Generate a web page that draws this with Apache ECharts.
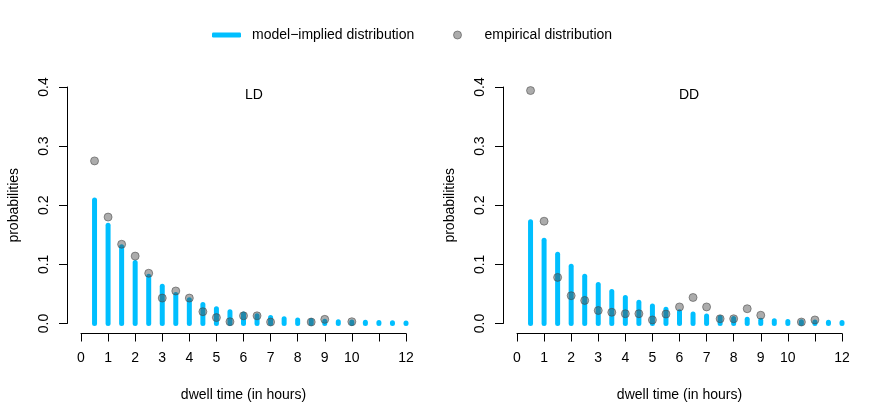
<!DOCTYPE html>
<html>
<head>
<meta charset="utf-8">
<script src="https://cdn.jsdelivr.net/npm/echarts@6/dist/echarts.min.js"></script>
<style>html,body{margin:0;padding:0;background:#fff;}#c{width:872px;height:410px;}</style>
</head>
<body>
<div id="c"></div>
<script>
const dwellTimes = [0.5,1,1.5,2,2.5,3,3.5,4,4.5,5,5.5,6,6.5,7,7.5,8,8.5,9,9.5,10,10.5,11,11.5,12];
const ldModel = [0.209,0.166,0.130,0.103,0.080,0.063,0.049,0.040,0.032,0.025,0.020,0.016,0.013,0.010,0.008,0.006,0.005,0.004,0.003,0.0025,0.002,0.0015,0.0012,0.001];
const ldEmp = [0.275,0.180,0.134,0.114,0.085,0.043,0.055,0.043,0.020,0.010,0.003,0.013,0.013,0.0025,null,null,0.0025,0.007,null,0.003,null,null,null,null];
const ddModel = [0.172,0.141,0.117,0.097,0.080,0.066,0.054,0.044,0.036,0.0295,0.024,0.020,0.016,0.0126,0.010,0.0085,0.007,0.0057,0.0045,0.0035,0.003,0.0025,0.002,0.0015];
const ddEmp = [0.394,0.173,0.078,0.047,0.039,0.022,0.019,0.0165,0.0165,0.006,0.016,0.028,0.044,0.028,0.008,0.008,0.025,0.014,null,null,0.0025,0.006,null,null];
const xTicks = [0,1,2,3,4,5,6,7,8,9,10,11,12];
const hiddenXTick = 11;
const yTicks = [0,0.1,0.2,0.3,0.4];
const panelTitles = ['LD','DD'];
const modelName = 'model\u2212implied distribution';
const empName = 'empirical distribution';

const FONT = '"Liberation Sans", Arial, Helvetica, sans-serif';
const BLUE = '#00BFFF';

function pairs(vals){ return dwellTimes.map((t,i)=>[t, vals[i]]).filter(p=>p[1]!==null); }

function xAxisCfg(idx){
  return {
    gridIndex: idx, type:'value', min: xTicks[0], max: xTicks[xTicks.length-1], interval: 1,
    offset: 10,
    name: 'dwell time (in hours)', nameLocation:'middle', nameGap: 55,
    nameTextStyle:{fontFamily:FONT,fontSize:14,color:'#000'},
    axisLine:{show:true,onZero:false,lineStyle:{color:'#000',width:1}},
    axisTick:{show:true,length:8,lineStyle:{color:'#000',width:1}},
    axisLabel:{margin:18,fontFamily:FONT,fontSize:14,color:'#000',
      formatter: v => (v===hiddenXTick ? '' : String(v))},
    splitLine:{show:false}
  };
}
function yAxisCfg(idx){
  return {
    gridIndex: idx, type:'value', min: yTicks[0], max: yTicks[yTicks.length-1], interval: 0.1,
    offset: 14,
    name: 'probabilities', nameLocation:'middle', nameGap: 46,
    nameTextStyle:{fontFamily:FONT,fontSize:14,color:'#000'},
    axisLine:{show:true,onZero:false,lineStyle:{color:'#000',width:1}},
    axisTick:{show:true,length:8,lineStyle:{color:'#000',width:1}},
    axisLabel:{rotate:90,margin:16,fontFamily:FONT,fontSize:14,color:'#000',
      formatter: v => v.toFixed(1)},
    splitLine:{show:false}
  };
}
function stemSeries(idx, vals){
  return {
    type:'custom', name: modelName, xAxisIndex: idx, yAxisIndex: idx, z: 2,
    itemStyle:{color:BLUE},
    clip:false,
    data: pairs(vals),
    renderItem: function(params, api){
      const p0 = api.coord([api.value(0), 0]);
      const p1 = api.coord([api.value(0), api.value(1)]);
      return {type:'line', shape:{x1:p0[0],y1:p0[1],x2:p1[0],y2:p1[1]},
        style:{stroke:BLUE,lineWidth:5,lineCap:'round'}};
    }
  };
}
function dotSeries(idx, vals){
  return {
    type:'scatter', name: empName, xAxisIndex: idx, yAxisIndex: idx, z: 5,
    symbol:'circle', symbolSize: 8, clip:false,
    itemStyle:{color:'rgba(70,70,70,0.45)', borderColor:'rgba(70,70,70,0.55)', borderWidth:1, opacity:1},
    emphasis:{disabled:true},
    data: pairs(vals)
  };
}

const chart = echarts.init(document.getElementById('c'), null, {renderer:'canvas'});
chart.setOption({
  animation:false,
  backgroundColor:'#fff',
  textStyle:{fontFamily:FONT},
  legend:[
    {data:[{name:modelName, icon:'roundRect'}], left:207, top:23, itemWidth:29, itemHeight:5,
     textStyle:{fontFamily:FONT,fontSize:14,color:'#000',padding:[0,0,0,6]}, selectedMode:false},
    {data:[{name:empName, icon:'circle', itemStyle:{color:'rgba(70,70,70,0.45)', borderColor:'rgba(70,70,70,0.55)', borderWidth:1}}], left:448, top:23, itemWidth:8, itemHeight:8,
     textStyle:{fontFamily:FONT,fontSize:14,color:'#000',padding:[0,0,0,18]}, selectedMode:false}
  ],
  grid:[
    {left:81, top:87, width:325, height:236.5, containLabel:false},
    {left:517, top:87, width:325, height:236.5, containLabel:false}
  ],
  xAxis:[xAxisCfg(0), xAxisCfg(1)],
  yAxis:[yAxisCfg(0), yAxisCfg(1)],
  graphic:[
    {type:'text', left:245, top:88, style:{text:panelTitles[0], font:'14px '+FONT, fill:'#000'}},
    {type:'text', left:679, top:88, style:{text:panelTitles[1], font:'14px '+FONT, fill:'#000'}}
  ],
  series:[stemSeries(0, ldModel), dotSeries(0, ldEmp), stemSeries(1, ddModel), dotSeries(1, ddEmp)]
});
</script>
</body>
</html>
